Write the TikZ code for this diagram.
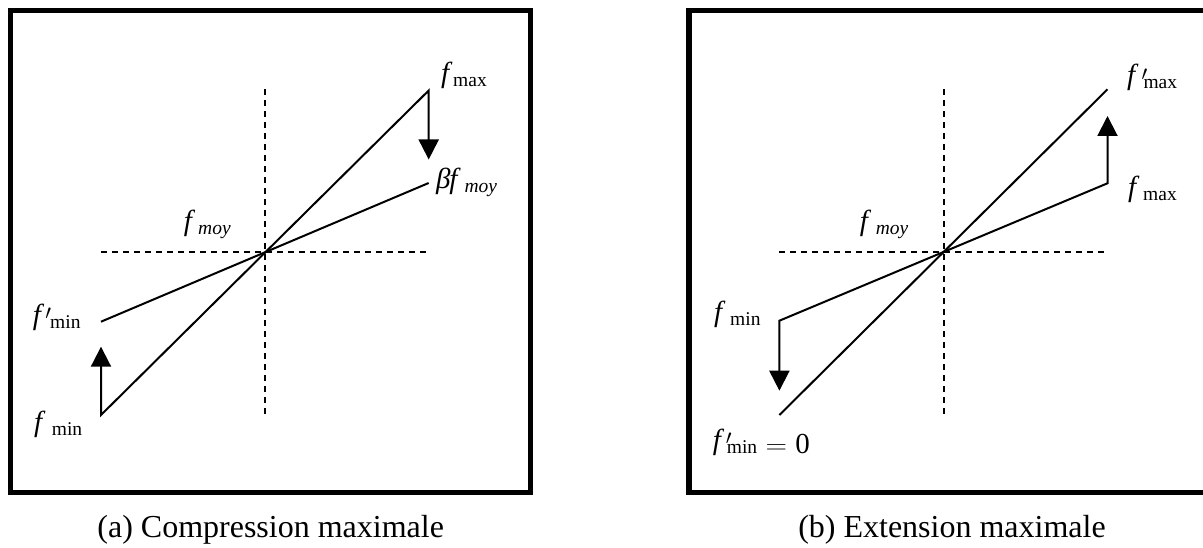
\documentclass[tikz,border=0pt]{standalone}
\usepackage{fontspec}
\setmainfont{Liberation Serif}
\usetikzlibrary{arrows.meta}
\newcommand{\subup}[1]{\raisebox{-4pt}{\fontsize{19.5}{22}\selectfont\upshape #1}}
\newcommand{\subit}[1]{\raisebox{-4pt}{\fontsize{19.5}{22}\selectfont\itshape #1}}
\newcommand{\zb}[1]{\makebox[0pt][l]{#1}}
\newcommand{\prm}[1]{\makebox[0pt][l]{\hspace{#1}\raisebox{4.5pt}{\fontsize{22}{24}\selectfont$\boldsymbol{\prime}$}}}
\providecommand{\boldsymbol}[1]{\mathbf{#1}}
\begin{document}
\begin{tikzpicture}[x=1pt,y=-1pt,
  frame/.style={line width=5.3pt},
  curve/.style={line width=2pt},
  axis/.style={line width=2pt, dash pattern=on 6pt off 5pt},
  move/.style={line width=2pt, {Triangle[length=20pt,width=20pt]}-{Triangle[length=20pt,width=20pt]}},
  lab/.style={inner sep=0pt, anchor=base west, font=\fontsize{29}{32}\selectfont\itshape},
  captext/.style={inner sep=0pt, anchor=base, font=\fontsize{32}{38}\selectfont}]
\useasboundingbox (0,0) rectangle (1203,548);
\clip (0,0) rectangle (1203,548);

% frames
\draw[frame] (10.7,10.7) rectangle (530.8,492.2);
\draw[frame] (689,10.7) rectangle (1215,492.2);

% ---------- left panel ----------
\coordinate (Lvt) at (264.7,89.3);
\coordinate (Lvb) at (264.7,416.7);
\coordinate (Lhl) at (101,252.3);
\coordinate (Lhr) at (429,252.3);
\coordinate (LsA) at (101,415);
\coordinate (LsB) at (428.7,90.5);
\coordinate (LfA) at (101,321.7);
\coordinate (LfB) at (428.7,183);
\coordinate (Lup) at (101,346.7);
\coordinate (Ldn) at (428.7,159.5);

\draw[axis] (Lvt) -- (Lvb);
\draw[axis] (Lhl) -- (Lhr);
\draw[curve] (LfA) -- (LfB);
\draw[move] (Lup) -- (LsA) -- (LsB) -- (Ldn);

\node[lab] (Lmax) at (441,83) {\zb{f}\hspace{12pt}\subup{max}};
\node[lab] (Lbeta) at (436,189) {\zb{β}\hspace{13.2pt}\zb{f}\hspace{15.1pt}\subit{moy}};
\node[lab] (Lmoy) at (183.6,231) {\zb{f}\hspace{14.4pt}\subit{moy}};
\node[lab] (Lminp) at (32.7,324) {\zb{f}\prm{12.5pt}\hspace{17.3pt}\subup{min}};
\node[lab] (Lmin) at (34,431) {\zb{f}\hspace{17.7pt}\subup{min}};

% ---------- right panel ----------
\coordinate (Rvt) at (943.6,89.3);
\coordinate (Rvb) at (943.6,416.7);
\coordinate (Rhl) at (779.4,252.3);
\coordinate (Rhr) at (1108.5,252.3);
\coordinate (RsA) at (779.4,415);
\coordinate (RsB) at (1107.5,89.3);
\coordinate (RfA) at (779.4,320.7);
\coordinate (RfB) at (1107.5,183.3);
\coordinate (Rup) at (1107.5,116);
\coordinate (Rdn) at (779.4,390.7);

\draw[axis] (Rvt) -- (Rvb);
\draw[axis] (Rhl) -- (Rhr);
\draw[curve] (RsA) -- (RsB);
\draw[move] (Rdn) -- (RfA) -- (RfB) -- (Rup);

\node[lab] (Rmaxp) at (1127,85) {\zb{f}\prm{14.5pt}\hspace{16.3pt}\subup{max}};
\node[lab] (Rmax) at (1128,197) {\zb{f}\hspace{15pt}\subup{max}};
\node[lab] (Rmoy) at (859.6,231) {\zb{f}\hspace{16pt}\subit{moy}};
\node[lab] (Rmin) at (714,321) {\zb{f}\hspace{16pt}\subup{min}};
\node[lab] (Rminp) at (712.7,449) {\zb{f}\prm{13pt}\hspace{14pt}\subup{min}};
\node[lab, font=\fontsize{29}{32}\selectfont\upshape] (Req) at (765.3,453) {\zb{\scalebox{1.2}[1]{$=$}}\hspace{29.9pt}0};

% captions
\node[captext] (capa) at (270.7,537) {(a) Compression maximale};
\node[captext] (capb) at (952,537) {(b) Extension maximale};
\end{tikzpicture}
\end{document}
